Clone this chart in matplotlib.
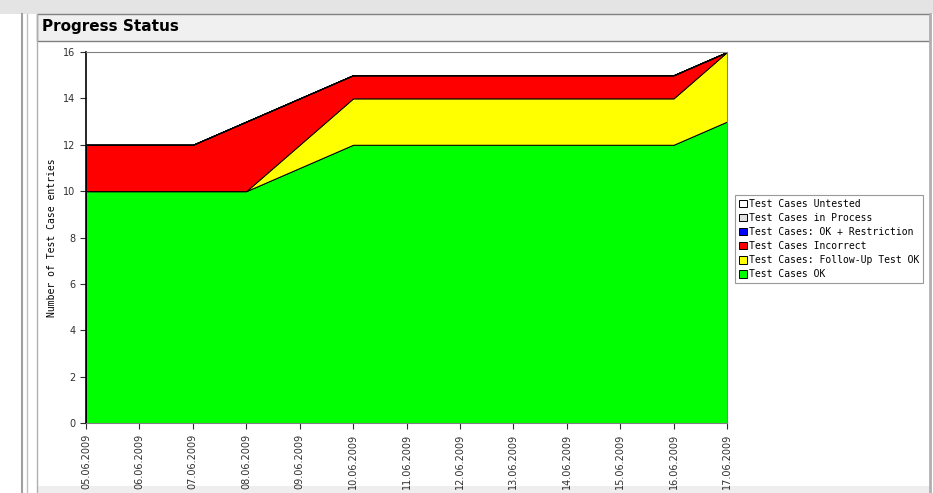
import matplotlib
matplotlib.use("Agg")
import matplotlib.pyplot as plt
from matplotlib.patches import Rectangle, Patch
from matplotlib.lines import Line2D

dates = ["05.06.2009", "06.06.2009", "07.06.2009", "08.06.2009", "09.06.2009",
         "10.06.2009", "11.06.2009", "12.06.2009", "13.06.2009", "14.06.2009",
         "15.06.2009", "16.06.2009", "17.06.2009"]
ok = [10, 10, 10, 10, 11, 12, 12, 12, 12, 12, 12, 12, 13]
follow_up = [0, 0, 0, 0, 1, 2, 2, 2, 2, 2, 2, 2, 3]
incorrect = [2, 2, 2, 3, 2, 1, 1, 1, 1, 1, 1, 1, 0]
ok_restriction = [0] * 13
in_process = [0] * 13
untested = [0] * 13

labels = ["Test Cases OK", "Test Cases: Follow-Up Test OK", "Test Cases Incorrect",
          "Test Cases: OK + Restriction", "Test Cases in Process", "Test Cases Untested"]
colors = ["#00ff00", "#ffff00", "#ff0000", "#0000ff", "#e0e0e0", "#ffffff"]

W, H = 933, 493
fig = plt.figure(figsize=(W / 100, H / 100), dpi=100)
fig.patch.set_facecolor("white")

def fx(x):
    return x / W

def fy(y):
    return 1 - y / H

# panel decorations
fig.add_artist(Rectangle((fx(0), fy(14)), fx(933), 14 / H, transform=fig.transFigure,
                         facecolor="#e4e4e4", edgecolor="none", zorder=0))
fig.add_artist(Rectangle((fx(37), fy(41)), fx(893), 27 / H, transform=fig.transFigure,
                         facecolor="#f0f0f0", edgecolor="#808080", linewidth=1.0, zorder=1))
fig.add_artist(Line2D([fx(22), fx(22)], [fy(14), fy(493)], transform=fig.transFigure,
                      color="#a0a0a0", linewidth=1.5))
fig.add_artist(Line2D([fx(27), fx(27)], [fy(14), fy(493)], transform=fig.transFigure,
                      color="#c0c0c0", linewidth=1.0))
fig.add_artist(Line2D([fx(37), fx(37)], [fy(14), fy(493)], transform=fig.transFigure,
                      color="#b0b0b0", linewidth=1.0))
fig.add_artist(Line2D([fx(930), fx(930)], [fy(14), fy(493)], transform=fig.transFigure,
                      color="#b0b0b0", linewidth=2.0))
fig.add_artist(Rectangle((fx(37), fy(493)), fx(893), 7 / H, transform=fig.transFigure,
                         facecolor="#eeeeee", edgecolor="none", zorder=0))
fig.text(fx(42), fy(27), "Progress Status", fontsize=11, fontweight="bold",
         family="DejaVu Sans", va="center", ha="left")

ax = fig.add_axes([fx(86), fy(423), (727 - 86) / W, (423 - 52) / H])
x = list(range(len(dates)))
ax.stackplot(x, ok, follow_up, incorrect, ok_restriction, in_process, untested,
             colors=colors, edgecolor="black", linewidth=0.7)
ax.set_xlim(0, len(dates) - 1)
ax.set_ylim(0, 16)
ax.set_yticks(range(0, 17, 2))
ax.set_xticks(x)
ax.set_xticklabels(dates, rotation=90)
ax.tick_params(axis="both", labelsize=7, length=4, direction="out", colors="#303030")
for s in ["top", "right"]:
    ax.spines[s].set_color("#808080")
ax.spines["left"].set_color("black")
ax.spines["left"].set_linewidth(1.2)
ax.spines["bottom"].set_color("#808080")
ax.set_ylabel("Number of Test Case entries", fontsize=7, family="DejaVu Sans Mono")
ax.yaxis.set_label_coords(-0.045, 0.5)

handles = [Patch(facecolor=c, edgecolor="black", linewidth=0.7) for c in colors]
leg = fig.legend(handles[::-1], labels[::-1], loc="upper left",
                 bbox_to_anchor=(fx(735), fy(195)), prop={"family": "DejaVu Sans Mono", "size": 7},
                 frameon=True, fancybox=False, edgecolor="#808080", handlelength=0.8,
                 handleheight=0.8, handletextpad=0.2, labelspacing=0.42, borderpad=0.4,
                 borderaxespad=0)
leg.get_frame().set_linewidth(0.8)

fig.savefig("out.png", dpi=100)
